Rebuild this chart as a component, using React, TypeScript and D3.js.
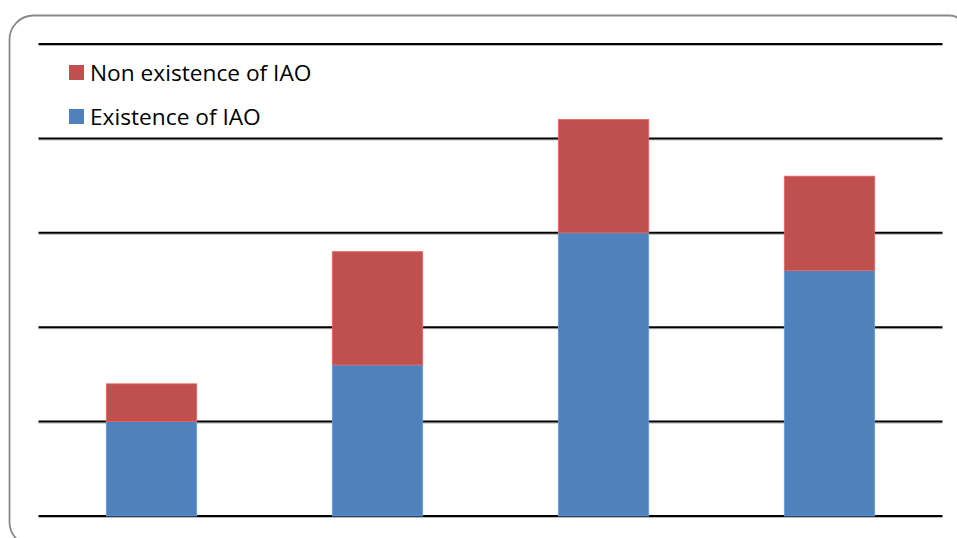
import React from "react";
import * as d3 from "d3";

const categories = ["Group 1", "Group 2", "Group 3", "Group 4"];
const existence = [5, 8, 15, 13];
const nonExistence = [2, 6, 6, 5];
const gridTicks = [0, 5, 10, 15, 20, 25];

const seriesNames = ["Existence of IAO", "Non existence of IAO"];
const seriesColors = ["#4F81BD", "#C0504D"];

const W = 957;
const H = 538;

export default function App() {
  const rows = categories.map((c, i) => ({
    category: c,
    existence: existence[i],
    nonExistence: nonExistence[i],
  }));
  const stacked = d3.stack<any>().keys(["existence", "nonExistence"])(rows);

  const x = d3
    .scaleBand<string>()
    .domain(categories)
    .range([38.5, 942.5])
    .paddingInner(0.6)
    .paddingOuter(0.3);
  const y = d3.scaleLinear().domain([0, 25]).range([516, 44]);

  // Frame: rounded left corners, right and bottom edges run past the view
  const fx = 9.5, fy = 15.5, fr = 24, fRight = 960, fBottom = 546, frR = 10;
  const framePath = `M${fx + fr},${fy} L${fRight - frR},${fy} Q${fRight},${fy} ${fRight},${fy + frR} L${fRight},${fBottom} L${fx + fr},${fBottom} A${fr},${fr} 0 0 1 ${fx},${fBottom - fr} L${fx},${fy + fr} A${fr},${fr} 0 0 1 ${fx + fr},${fy} Z`;

  const font = "'Open Sans', 'Noto Sans', sans-serif";
  const legend = [
    { name: seriesNames[1], color: seriesColors[1], y: 65 },
    { name: seriesNames[0], color: seriesColors[0], y: 109 },
  ];

  return (
    <svg
      width={W}
      height={H}
      style={{ position: "absolute", left: 0, top: 0, background: "#fff" }}
    >
      <path d={framePath} fill="#fff" stroke="#8a8a8a" strokeWidth={1.8} />
      {gridTicks.map((t) => (
        <g key={t}>
          <line x1={38.5} x2={942.5} y1={y(t) + 1.5} y2={y(t) + 1.5} stroke="#b8b8b8" strokeWidth={1} />
          <line x1={38.5} x2={942.5} y1={y(t)} y2={y(t)} stroke="#000" strokeWidth={2} />
        </g>
      ))}
      {stacked.map((s, si) => (
        <g key={s.key}>
          {s.map((d, i) => {
            const fill = seriesColors[si];
            const edge = d3.color(fill)!.brighter(0.6).formatHex();
            return (
              <rect
                key={i}
                x={x(categories[i])!}
                y={y(d[1])}
                width={x.bandwidth()}
                height={y(d[0]) - y(d[1])}
                fill={fill}
                stroke={edge}
                strokeWidth={0.8}
              />
            );
          })}
        </g>
      ))}
      {legend.map((l) => (
        <g key={l.name}>
          <rect x={69} y={l.y} width={15} height={15} fill={l.color} />
          <text x={90} y={l.y + 16} fontFamily={font} fontSize={22.7} fill="#000">
            {l.name}
          </text>
        </g>
      ))}
    </svg>
  );
}
